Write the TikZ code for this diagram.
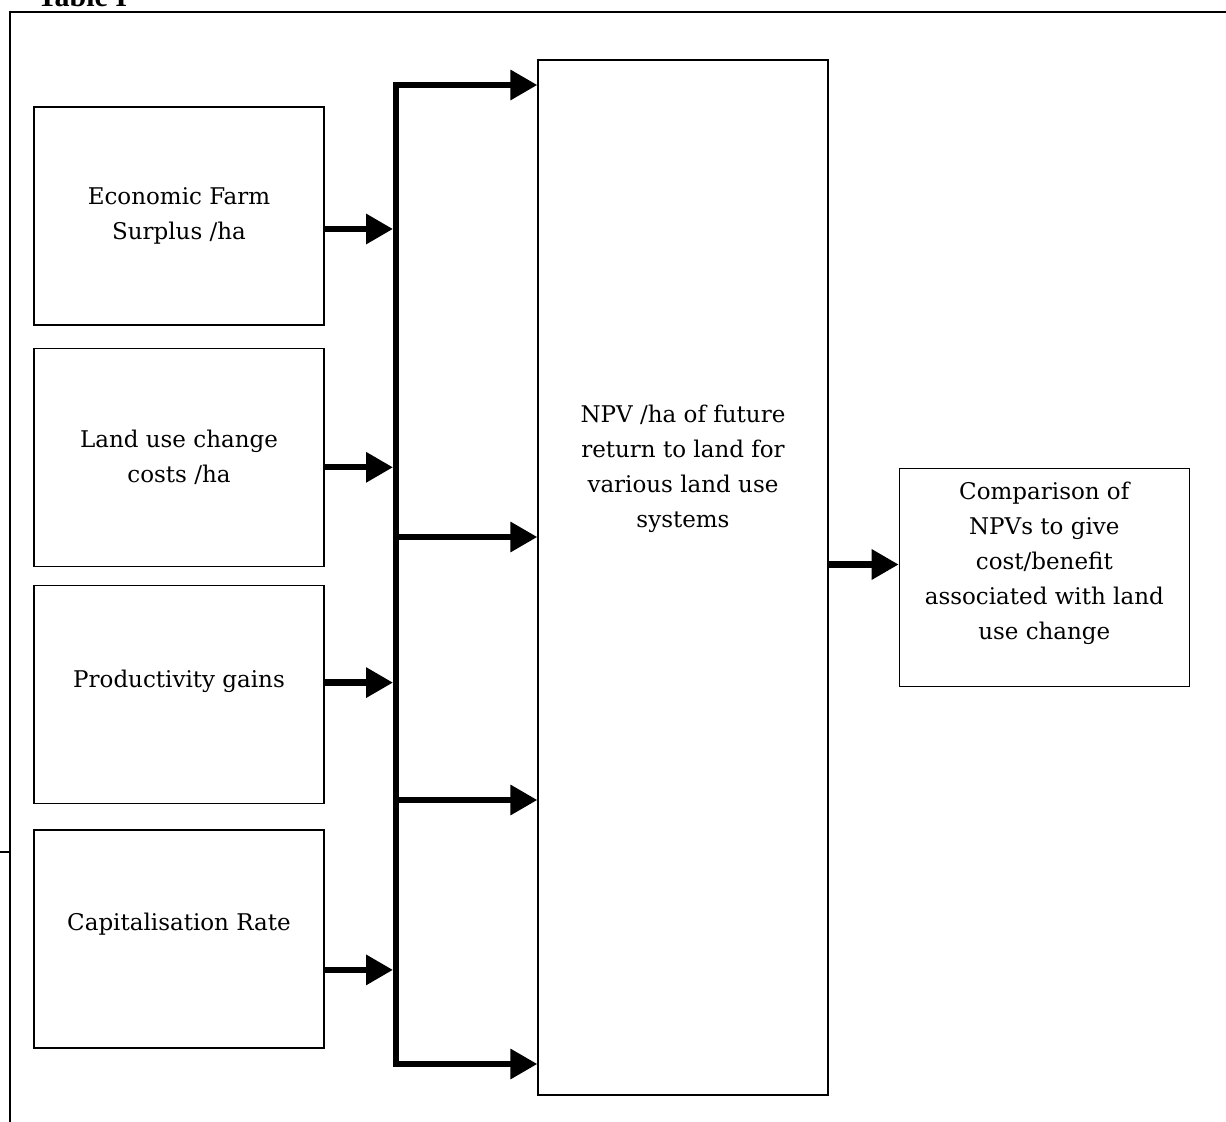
\documentclass[tikz,border=0pt]{standalone}
\usepackage{fontspec}
\setmainfont{DejaVu Serif}
\newfontfamily\tabfont{Liberation Serif}
\usetikzlibrary{arrows.meta, positioning}

\begin{document}
\begin{tikzpicture}[
    x=0.5pt, y=-0.5pt,
    node distance=11pt,
    inbox/.style={
        rectangle,
        draw,
        line width=0.65pt,
        minimum width=145pt,
        minimum height=109pt,
        inner sep=0pt
    },
    boxtext/.style={
        align=center,
        inner sep=0pt,
        font=\fontsize{11.5}{17.5}\selectfont
    },
    feed/.style={-{Triangle[length=13.5pt,width=14.5pt]}, line width=3.2pt}
]
\useasboundingbox (0,0) rectangle (1226,1122);

% page frame
\draw[line width=0.8pt] (1240,12) -| (10,1130);
\draw[line width=0.8pt] (0,852) -- (10,852);
\node[anchor=base west, inner sep=0pt, font=\tabfont\fontsize{15}{18}\selectfont\bfseries] (tabtitle) at (37,7) {Table I};

% input boxes
\node[inbox] (surplus) at (179,216) {};
\node[inbox, below=of surplus] (change) {};
\node[inbox, below=9pt of change] (gains) {};
\node[inbox, below=12.5pt of gains] (caprate) {};

\node[boxtext] (surplustext) at (surplus.center) {Economic Farm\\Surplus /ha};
\node[boxtext] (changetext) at (change.center) {Land use change\\costs /ha};
\node[boxtext] (gainstext) at ([yshift=6.5pt]gains.center) {Productivity gains};
\node[boxtext] (captext) at ([yshift=7.5pt]caprate.center) {Capitalisation Rate};

% NPV and result
\node[inbox, minimum height=517.5pt] (npv) at (683,577.5) {};
\node[inbox, right=35pt of npv] (compare) {};

\node[boxtext] (npvtext) at ([yshift=54.5pt]npv.center) {NPV /ha of future\\return to land for\\various land use\\systems};
\node[boxtext] (comparetext) at ([yshift=7pt]compare.center) {Comparison of\\NPVs to give\\cost/benefit\\associated with land\\use change};

% collecting bus
\coordinate (btop) at (396,85);
\coordinate (bmida) at (396,537);
\coordinate (bmidb) at (396,800);
\coordinate (bbot) at (396,1064);

\draw[feed] (bbot) -- (btop) -- (btop -| npv.west);
\draw[feed, line cap=rect] (bbot) -- (bbot -| npv.west);
\draw[feed] (bmida) -- (bmida -| npv.west);
\draw[feed] (bmidb) -- (bmidb -| npv.west);

\coordinate (surplusout) at ([yshift=-6.5pt]surplus.east);
\coordinate (changeout) at ([yshift=-5pt]change.east);
\coordinate (gainsout) at ([yshift=6pt]gains.east);
\coordinate (capout) at ([yshift=-15.5pt]caprate.east);
\coordinate (npvout) at ([yshift=6.5pt]npv.east);

\draw[feed, shorten >=1.5pt] (surplusout) -- (surplusout -| btop);
\draw[feed, shorten >=1.5pt] (changeout) -- (changeout -| btop);
\draw[feed, shorten >=1.5pt] (gainsout) -- (gainsout -| btop);
\draw[feed, shorten >=1.5pt] (capout) -- (capout -| btop);
\draw[feed] (npvout) -- (npvout -| compare.west);

\end{tikzpicture}
\end{document}
